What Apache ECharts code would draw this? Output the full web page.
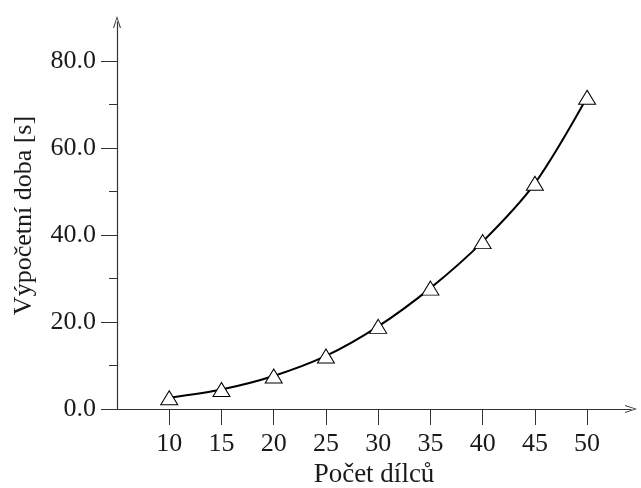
<!DOCTYPE html>
<html>
<head>
<meta charset="utf-8">
<script src="https://cdn.jsdelivr.net/npm/echarts@6/dist/echarts.min.js"></script>
<style>
html,body{margin:0;padding:0;background:#fff}
#main{width:641px;height:488px}
</style>
</head>
<body>
<div id="main"></div>
<script>
// data
var parts = [10, 15, 20, 25, 30, 35, 40, 45, 50];
var times = [2.6, 4.5, 7.6, 12.2, 19.0, 27.8, 38.5, 51.9, 71.7];
var yMajor = [0, 20, 40, 60, 80];
var yMinor = [10, 30, 50, 70];

var font = 'Liberation Serif';
var ink = '#1a1a1a';
var arrow = 'path://M50,0 L100,150 L86,150 L50,30 L14,150 L0,150 Z';

var points = [];
for (var i = 0; i < parts.length; i++) {
  points.push([parts[i], times[i]]);
}

var chart = echarts.init(document.getElementById('main'), null, {renderer: 'canvas'});

chart.setOption({
  animation: false,
  grid: {left: 117, right: 10, top: 22, bottom: 79, outerBoundsMode: 'none', containLabel: false},
  xAxis: {
    type: 'value',
    min: 5,
    max: 54.2,
    interval: 5,
    name: 'Počet dílců',
    nameLocation: 'middle',
    nameGap: 50,
    nameTextStyle: {fontFamily: font, fontSize: 27, color: ink},
    axisLine: {
      lineStyle: {color: '#333', width: 1.2},
      symbol: ['none', arrow],
      symbolSize: [8, 15]
    },
    axisTick: {show: true, length: 16, customValues: parts, lineStyle: {color: '#333'}},
    axisLabel: {
      customValues: parts,
      margin: 22,
      fontFamily: font, fontSize: 26, color: ink
    },
    splitLine: {show: false}
  },
  yAxis: [{
    type: 'value',
    min: 0,
    max: 89,
    interval: 20,
    name: 'Výpočetní doba [s]',
    nameLocation: 'middle',
    nameGap: 80,
    nameTextStyle: {fontFamily: font, fontSize: 26, color: ink},
    axisLine: {
      show: true,
      lineStyle: {color: '#333', width: 1.2},
      symbol: ['none', arrow],
      symbolSize: [8, 15]
    },
    axisTick: {show: true, length: 16, customValues: yMajor, lineStyle: {color: '#333'}},
    axisLabel: {
      customValues: yMajor,
      margin: 21,
      fontFamily: font, fontSize: 26, color: ink,
      formatter: function (v) { return v.toFixed(1); }
    },
    splitLine: {show: false}
  }, {
    // minor ticks only
    type: 'value',
    min: 0,
    max: 89,
    position: 'left',
    axisLine: {show: false},
    axisTick: {show: true, length: 8, customValues: yMinor, lineStyle: {color: '#333'}},
    axisLabel: {show: false},
    splitLine: {show: false}
  }],
  series: [{
    type: 'line',
    data: points,
    smooth: 0.3,
    symbol: 'triangle',
    symbolSize: [17, 14],
    lineStyle: {color: '#000', width: 2},
    itemStyle: {color: '#fff', borderColor: '#000', borderWidth: 1},
    z: 3
  }]
});
</script>
</body>
</html>
